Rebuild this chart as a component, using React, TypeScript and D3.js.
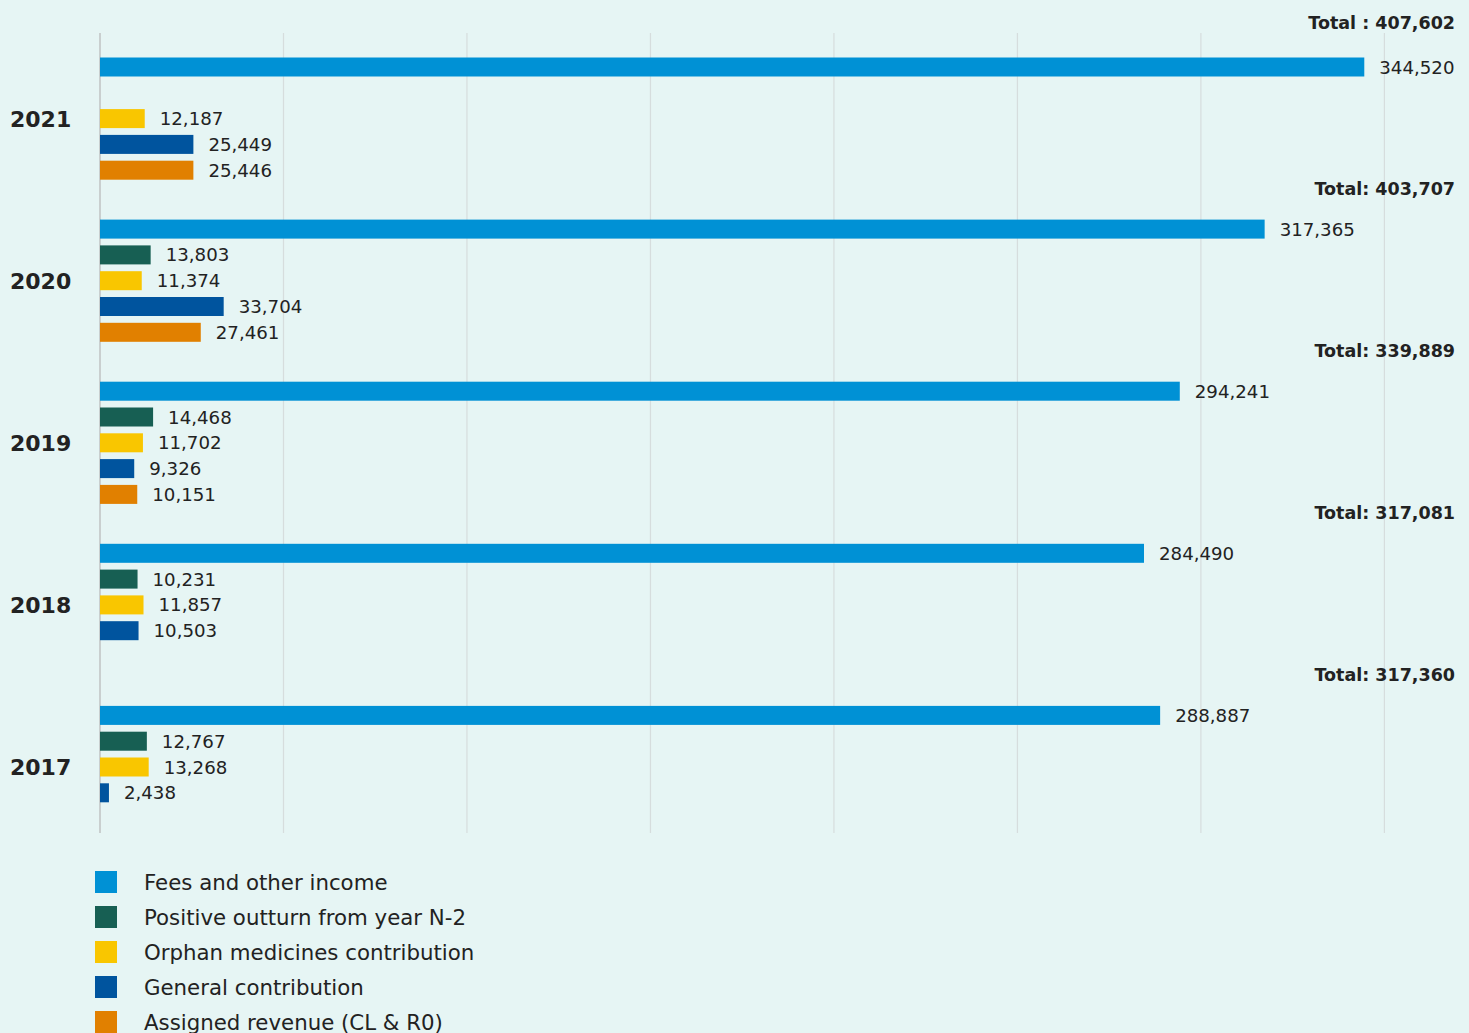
import React from "react";
import * as d3 from "d3";

const years = ["2021", "2020", "2019", "2018", "2017"];
const seriesNames = [
  "Fees and other income",
  "Positive outturn from year N-2",
  "Orphan medicines contribution",
  "General contribution",
  "Assigned revenue (CL & R0)",
];
const seriesColors = ["#0091d5", "#175f53", "#f9c600", "#00549e", "#e18000"];
const fees = [344520, 317365, 294241, 284490, 288887];
const outturn = [null, 13803, 14468, 10231, 12767];
const orphan = [12187, 11374, 11702, 11857, 13268];
const general = [25449, 33704, 9326, 10503, 2438];
const assigned = [25446, 27461, 10151, null, null];
const totals = [407602, 403707, 339889, 317081, 317360];
const totalPrefixes = ["Total : ", "Total: ", "Total: ", "Total: ", "Total: "];
const xTicks = [0, 50000, 100000, 150000, 200000, 250000, 300000, 350000];

const W = 1469;
const H = 1033;
const FONT = "'DejaVu Sans', Verdana, sans-serif";

export default function App() {
  const seriesValues = [fees, outturn, orphan, general, assigned];
  const x = d3.scaleLinear().domain([0, 350000]).range([100, 1384.4]);
  const yOuter = d3
    .scaleBand<string>()
    .domain(years)
    .range([57.5, 57.5 + 5 * 162.1])
    .paddingInner(0)
    .paddingOuter(0);
  const yInner = d3
    .scaleBand<string>()
    .domain(seriesNames)
    .range([0, 4 * 25.8 + 19])
    .paddingInner(6.8 / 25.8)
    .paddingOuter(0);
  const fmt = d3.format(",");

  return (
    <svg
      width={W}
      height={H}
      style={{ position: "absolute", left: 0, top: 0 }}
      fontFamily={FONT}
    >
      <rect x={0} y={0} width={W} height={H} fill="#e6f5f4" />
      {xTicks.map((t, i) => (
        <line
          key={t}
          x1={x(t)}
          x2={x(t)}
          y1={33}
          y2={833}
          stroke={i === 0 ? "#c9cfcf" : "#d6dddd"}
          strokeWidth={i === 0 ? 2 : 1.2}
        />
      ))}
      {years.map((yr, yi) => {
        const g0 = yOuter(yr)!;
        return (
          <g key={yr}>
            <text
              x={10}
              y={g0 + 61.5}
              dy="0.36em"
              fontSize={22}
              fontWeight="bold"
              fill="#222"
            >
              {yr}
            </text>
            <text
              x={1455}
              y={g0 - 31 - (yi === 0 ? 4 : 0)}
              dy="0.36em"
              fontSize={17.5}
              fontWeight="bold"
              fill="#222"
              textAnchor="end"
            >
              {totalPrefixes[yi] + fmt(totals[yi])}
            </text>
            {seriesNames.map((s, si) => {
              const v = seriesValues[si][yi];
              if (v == null) return null;
              const by = g0 + yInner(s)!;
              const bh = yInner.bandwidth();
              return (
                <g key={s}>
                  <rect
                    x={x(0)}
                    y={by}
                    width={x(v) - x(0)}
                    height={bh}
                    fill={seriesColors[si]}
                  />
                  <text
                    x={x(v) + 15}
                    y={by + bh / 2}
                    dy="0.36em"
                    fontSize={18.2}
                    fill="#222"
                  >
                    {fmt(v)}
                  </text>
                </g>
              );
            })}
          </g>
        );
      })}
      {seriesNames.map((s, i) => (
        <g key={s} transform={`translate(95, ${871 + i * 35})`}>
          <rect x={0} y={0} width={22} height={22} fill={seriesColors[i]} />
          <text x={49} y={11} dy="0.36em" fontSize={21.3} fill="#222">
            {s}
          </text>
        </g>
      ))}
    </svg>
  );
}
